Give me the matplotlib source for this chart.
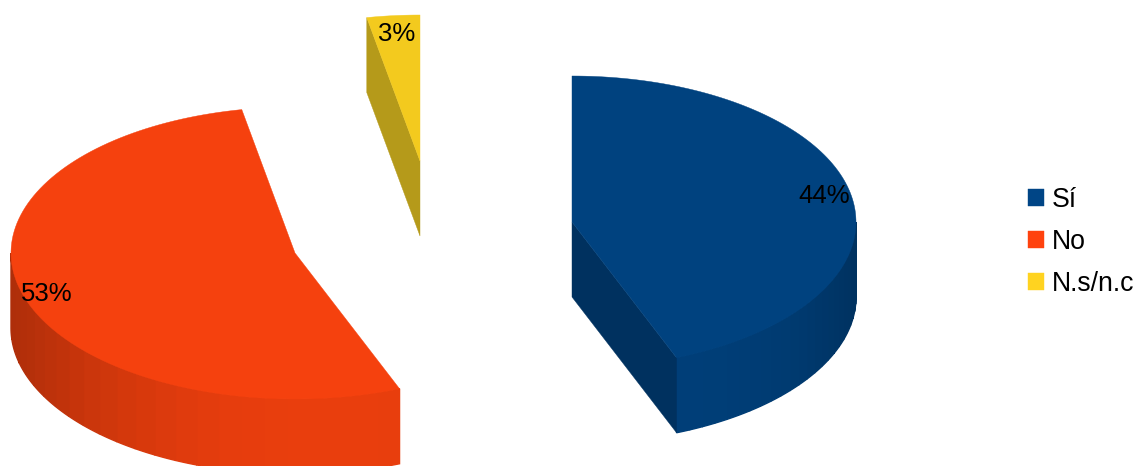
import numpy as np
import matplotlib
matplotlib.use("Agg")
import matplotlib.pyplot as plt
from matplotlib.patches import Polygon, Patch
from matplotlib.colors import to_rgb

categories = ["Sí", "No", "N.s/n.c"]
shares = [44, 53, 3]
top_colors = ["#00427f", "#f5410e", "#f3ca1e"]
legend_colors = ["#004586", "#ff420e", "#ffd320"]
cut_colors = ["#00315f", "#b5300a", "#b59a1a"]

# Pie geometry in pixel units (y grows downward)
RX, RY, DEPTH = 284, 146, 75
apexes = [(572, 222), (295, 253), (420, 161)]
label_offsets = [(252, -26), (-248, 41), (-23, -127)]

plt.rcParams["font.family"] = ["Liberation Sans", "DejaVu Sans"]
FONT = 18.5

fig = plt.figure(figsize=(11.38, 4.66), dpi=100)
ax = fig.add_axes([0, 0, 1, 1])
ax.set_xlim(0, 1138)
ax.set_ylim(466, 0)
ax.axis("off")


def rim(cx, cy, a0, a1, n=120):
    """Points on the top ellipse; angles run clockwise from twelve o'clock."""
    t = np.linspace(a0, a1, n)
    return cx + RX * np.sin(t), cy - RY * np.cos(t)


def wall(cx, cy, a0, a1, color, n_facets=24):
    """Outer wall of a slice, only the part that faces the viewer."""
    a0, a1 = max(a0, np.pi / 2), min(a1, 3 * np.pi / 2)
    if a1 <= a0:
        return
    base = np.array(to_rgb(color))
    edges = np.linspace(a0, a1, n_facets + 1)
    for s, e in zip(edges[:-1], edges[1:]):
        x, y = rim(cx, cy, s, e, 6)
        pts = np.r_[np.c_[x, y], np.c_[x[::-1], y[::-1] + DEPTH]]
        side = np.sin((s + e) / 2)
        # Left side of the wall darkens more than the right side
        factor = 0.95 - 0.24 * side ** 2 if side < 0 else 0.95 - 0.2 * side ** 4
        col = tuple(base * factor)
        ax.add_patch(Polygon(pts, closed=True, fc=col, ec=col, lw=1.0, zorder=2))


def cut_face(cx, cy, ang, color):
    """Radial side of a slice between the top face and the bottom face."""
    ex, ey = rim(cx, cy, ang, ang, 1)
    q = [(cx, cy), (ex[0], ey[0]), (ex[0], ey[0] + DEPTH), (cx, cy + DEPTH)]
    ax.add_patch(Polygon(q, closed=True, fc=color, ec=color, lw=0.3, zorder=2.5))


start = 0.0
for name, share, apex, top, cut, off in zip(
    categories, shares, apexes, top_colors, cut_colors, label_offsets
):
    a0 = start
    a1 = start + 2 * np.pi * share / sum(shares)
    start = a1
    cx, cy = apex

    wall(cx, cy, a0, a1, top)

    # A radial side shows only when it is turned toward the viewer
    if np.sin(a0) < -1e-9:
        cut_face(cx, cy, a0, cut)
    if np.sin(a1) > 1e-9:
        cut_face(cx, cy, a1, cut)

    x, y = rim(cx, cy, a0, a1)
    pts = np.r_[[(cx, cy)], np.c_[x, y]]
    ax.add_patch(Polygon(pts, closed=True, fc=top, ec=top, lw=0.3, zorder=3))

    ax.text(cx + off[0], cy + off[1], f"{share}%", fontsize=FONT, color="black",
            ha="center", va="center", zorder=5)

handles = [Patch(fc=c, ec=c, lw=0.3) for c in legend_colors]
ax.legend(handles, categories, loc="upper left", bbox_to_anchor=(1028 / 1138, 1 - 187 / 466),
          frameon=False, fontsize=19.2, handlelength=0.6, handleheight=0.6,
          handletextpad=0.3, labelspacing=0.6, borderpad=0, borderaxespad=0)

fig.savefig("out.png", dpi=100, facecolor="white")
